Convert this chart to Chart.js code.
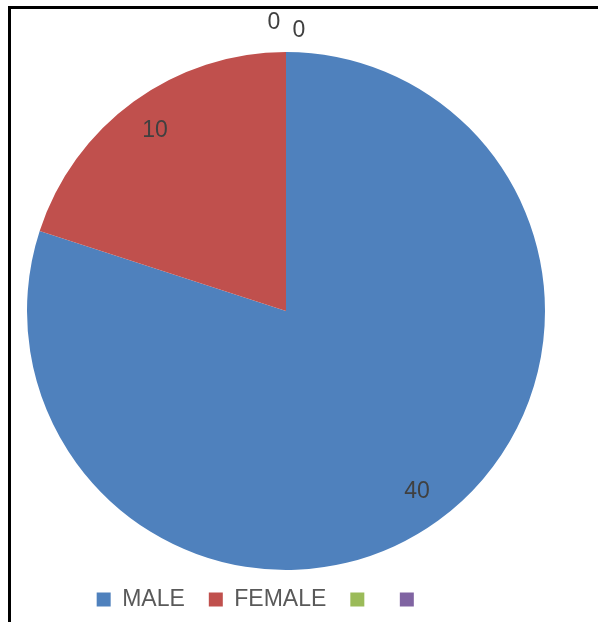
<!DOCTYPE html>
<html>
<head>
<meta charset="utf-8">
<script src="https://cdn.jsdelivr.net/npm/chart.js@4/dist/chart.umd.min.js"></script>
<style>
  html, body { margin: 0; padding: 0; background: #fff; overflow: hidden; }
  body { width: 598px; height: 622px; position: relative; }
  /* moldura preta (so topo e esquerda) */
  #moldura {
    position: absolute; left: 8px; top: 6px; width: 620px; height: 640px;
    border-top: 3px solid #000; border-left: 3px solid #000;
  }
  #caixa { position: absolute; left: 0; top: 0; width: 598px; height: 641px; }
</style>
</head>
<body>
<div id="moldura"></div>
<div id="caixa"><canvas id="graficoPizza"></canvas></div>
<script>
// Dados do grafico
const categorias = ['MALE', 'FEMALE', '', ''];
const quantidades = [40, 10, 0, 0];
const cores = ['#4F81BD', '#C0504D', '#9BBB59', '#8064A2'];

// deslocamento da legenda em relacao ao centro da pizza
const legendaDx = -25;
const legendaDy = -6;

const moverLegenda = {
    id: 'moverLegenda',
    afterLayout(chart) {
        const leg = chart.legend;
        if (!leg) return;
        leg.left += legendaDx;
        leg.right += legendaDx;
        leg.top += legendaDy;
        leg.bottom += legendaDy;
    }
};

// escreve o valor de cada fatia
const rotulosValores = {
    id: 'rotulosValores',
    afterDatasetsDraw(chart) {
        const ctx = chart.ctx;
        const meta = chart.getDatasetMeta(0);
        let zeros = 0;
        ctx.save();
        ctx.font = '23px "Liberation Sans", Arial, sans-serif';
        ctx.fillStyle = '#404040';
        ctx.textAlign = 'center';
        ctx.textBaseline = 'middle';
        meta.data.forEach((arco, i) => {
            const { x, y, startAngle, endAngle, outerRadius } = arco.getProps(['x', 'y', 'startAngle', 'endAngle', 'outerRadius'], true);
            const meio = (startAngle + endAngle) / 2;
            const valor = quantidades[i];
            let px, py;
            if (valor > 0) {
                const r = outerRadius * 0.86;
                px = x + Math.cos(meio) * r;
                py = y + Math.sin(meio) * r;
            } else {
                // fatias zeradas ficam fora, uma ao lado da outra
                const r = outerRadius + 29 - 8 * zeros;
                px = x + Math.cos(meio) * r + (zeros === 0 ? -12 : 13);
                py = y + Math.sin(meio) * r;
                zeros++;
            }
            ctx.fillText(String(valor), px, py);
        });
        ctx.restore();
    }
};

const graficoPizza = new Chart(document.querySelector('#graficoPizza'), {
    type: 'pie',
    data: {
        labels: categorias,
        datasets: [{
            data: quantidades,
            backgroundColor: cores,
            borderWidth: 0,
            clip: false
        }]
    },
    options: {
        responsive: true,
        maintainAspectRatio: false,
        animation: false,
        layout: {
            padding: { top: 52, bottom: 14, left: 16, right: 42 }
        },
        plugins: {
            tooltip: { enabled: false },
            legend: {
                position: 'bottom',
                labels: {
                    boxWidth: 14,
                    boxHeight: 14,
                    padding: 24,
                    color: '#595959',
                    font: { family: '"Liberation Sans", Arial, sans-serif', size: 23 }
                }
            }
        }
    },
    plugins: [moverLegenda, rotulosValores]
});
</script>
</body>
</html>
